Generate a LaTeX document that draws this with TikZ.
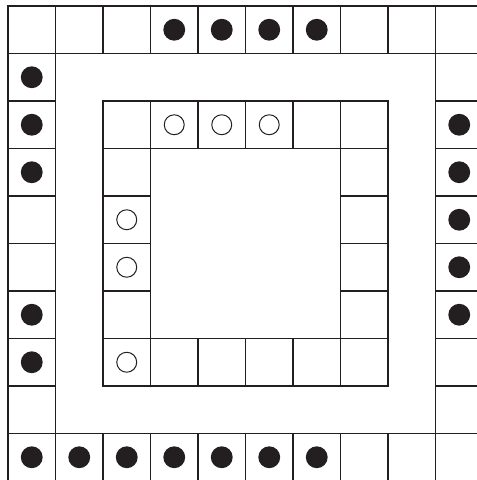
\documentclass[tikz,border=0pt]{standalone}
\usepackage{tikz}
\usetikzlibrary{positioning}
\definecolor{ink}{HTML}{231F20}

\begin{document}
\begin{tikzpicture}[
    cell/.style={draw=ink, line width=0.8pt, minimum size=1cm, inner sep=0pt},
    stone/.style={fill=ink},
    hole/.style={draw=ink, line width=0.6pt}
  ]
    \useasboundingbox (-0.168,0.126) rectangle (9.853,-9.979);

    % Outer ring
    \foreach \c in {0,...,9} {
        \node[cell] (o-\c-0) at (\c+0.5,-0.5) {};
        \node[cell] (o-\c-9) at (\c+0.5,-9.5) {};
    }
    \foreach \r in {1,...,8} {
        \node[cell] (o-0-\r) at (0.5,-\r-0.5) {};
        \node[cell] (o-9-\r) at (9.5,-\r-0.5) {};
    }

    % Inner ring
    \foreach \c in {2,...,7} {
        \node[cell] (i-\c-2) at (\c+0.5,-2.5) {};
        \node[cell] (i-\c-7) at (\c+0.5,-7.5) {};
    }
    \foreach \r in {3,...,6} {
        \node[cell] (i-2-\r) at (2.5,-\r-0.5) {};
        \node[cell] (i-7-\r) at (7.5,-\r-0.5) {};
    }

    % Filled stones
    \foreach \n in {o-3-0,o-4-0,o-5-0,o-6-0,
                    o-0-1,o-0-2,o-0-3,o-0-6,o-0-7,
                    o-9-2,o-9-3,o-9-4,o-9-5,o-9-6,
                    o-0-9,o-1-9,o-2-9,o-3-9,o-4-9,o-5-9,o-6-9}
        \fill[stone] (\n) circle (0.23);

    % Open stones
    \foreach \n in {i-3-2,i-4-2,i-5-2,i-2-4,i-2-5,i-2-7}
        \draw[hole] (\n) circle (0.21);
\end{tikzpicture}
\end{document}
